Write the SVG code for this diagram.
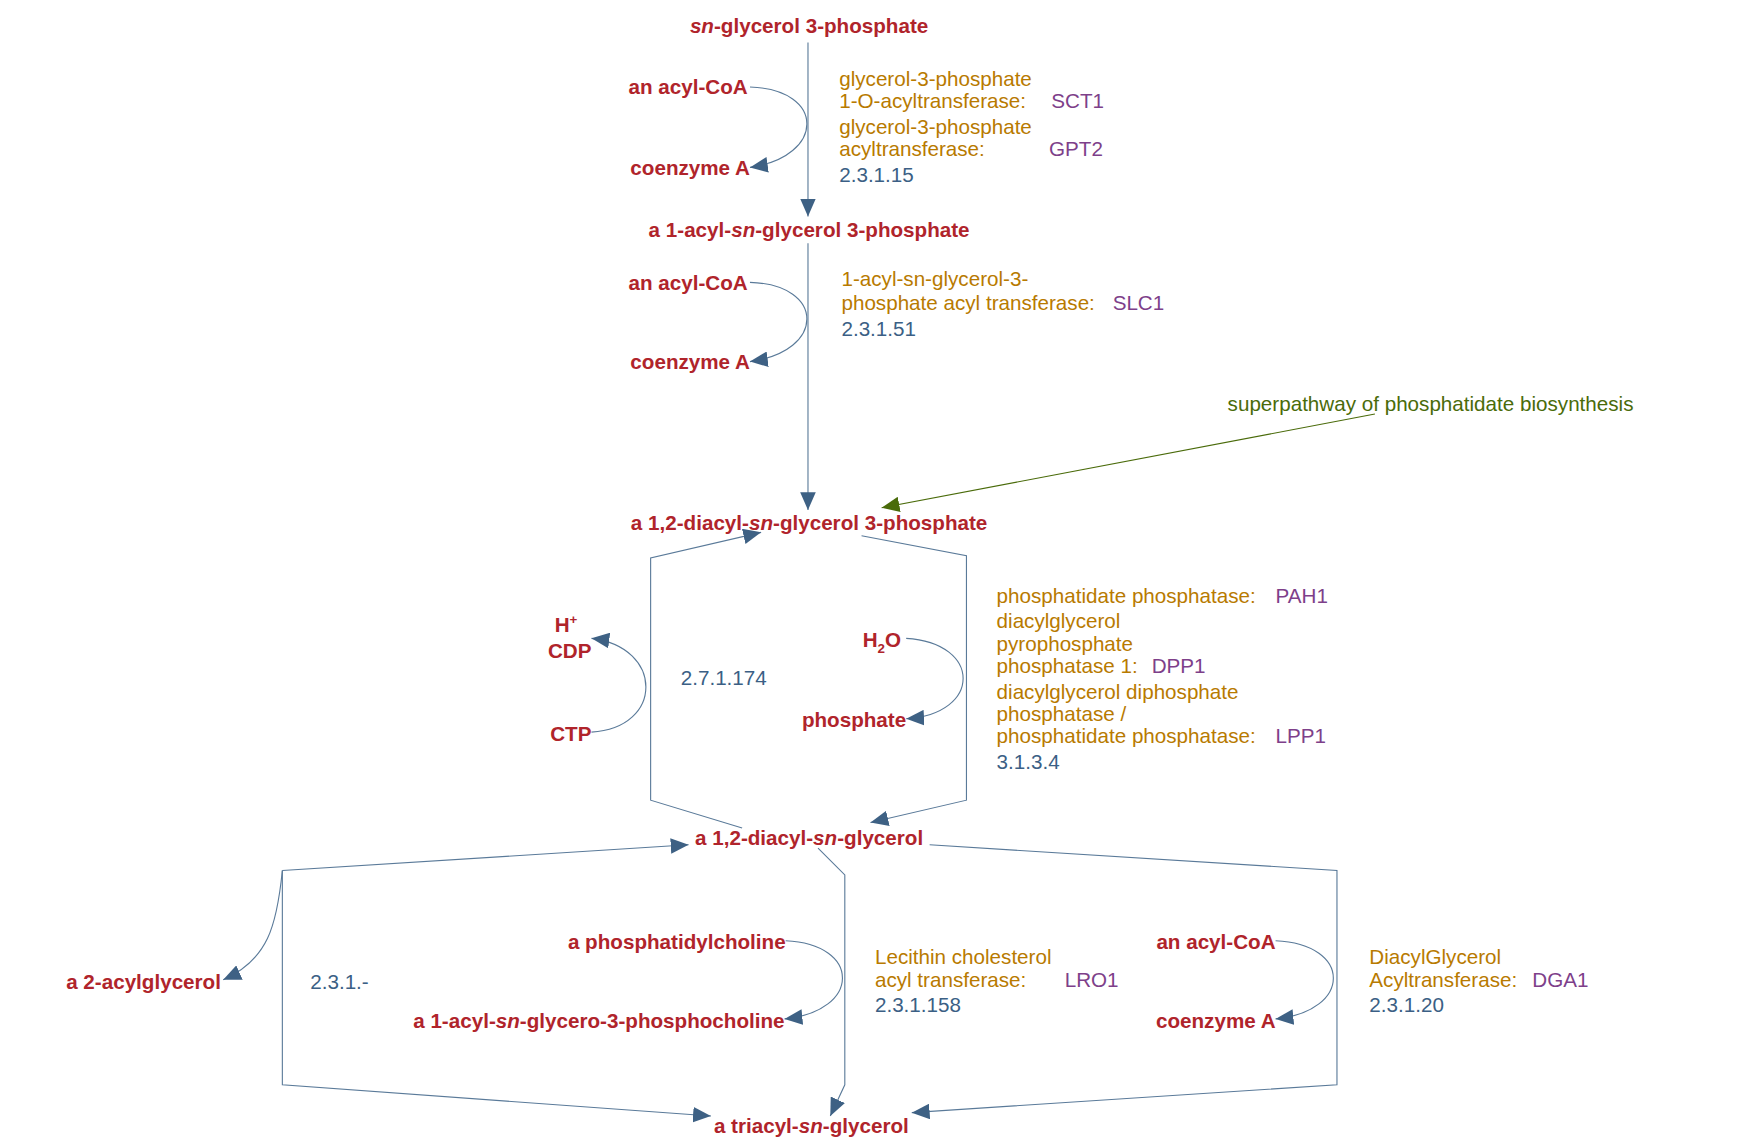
<svg xmlns="http://www.w3.org/2000/svg" width="1750" height="1146" viewBox="0 0 1750 1146">
<style>
.c{font-family:"Liberation Sans",Arial,sans-serif;font-size:18.5px;font-weight:bold;fill:#b0242b}
.e{font-family:"Liberation Sans",Arial,sans-serif;font-size:18.5px;fill:#b87a00}
.g{font-family:"Liberation Sans",Arial,sans-serif;font-size:18.5px;fill:#7e3f8a}
.n{font-family:"Liberation Sans",Arial,sans-serif;font-size:18.5px;fill:#3b5f85}
.p{font-family:"Liberation Sans",Arial,sans-serif;font-size:18.5px;fill:#4a6b0a}
.m{text-anchor:middle}.r{text-anchor:end}
.l{fill:none;stroke:#5a7a99;stroke-width:1}
</style>
<defs>
<marker id="a" markerUnits="userSpaceOnUse" markerWidth="18" markerHeight="14" refX="16" refY="7" orient="auto"><path d="M0,0L16,7L0,14z" fill="#3e6184"/></marker>
<marker id="ag" markerUnits="userSpaceOnUse" markerWidth="18" markerHeight="14" refX="16" refY="7" orient="auto"><path d="M0,0L16,7L0,14z" fill="#4a6b0a"/></marker>
</defs>
<rect width="1750" height="1146" fill="#fff"/>
<g transform="scale(1.116)">
<g id="connectors">
<path class="l" d="M724,38V194" marker-end="url(#a)"/>
<path class="l" d="M672,78C740,80 740,140 672,150" marker-end="url(#a)"/>
<path class="l" d="M724,218V457" marker-end="url(#a)"/>
<path class="l" d="M672,253C740,255 740,315 672,324" marker-end="url(#a)"/>
<path d="M1232,371L790,455" fill="none" stroke="#4a6b0a" marker-end="url(#ag)"/>
<path class="l" d="M665,742L583,717V500L682,477" marker-end="url(#a)"/>
<path class="l" d="M772,480L866,498V717L780,737" marker-end="url(#a)"/>
<path class="l" d="M530,656C595,652 595,580 530,572" marker-end="url(#a)"/>
<path class="l" d="M812,572C880,576 880,640 812,644" marker-end="url(#a)"/>
<path class="l" d="M253,780L617,757"  marker-end="url(#a)"/>
<path class="l" d="M253,780V972L637,1000" marker-end="url(#a)"/>
<path class="l" d="M253,780C248,830 240,860 200,878" marker-end="url(#a)"/>
<path class="l" d="M733,760L757,784V972L744,1000" marker-end="url(#a)"/>
<path class="l" d="M704,843C772,846 772,906 703,913" marker-end="url(#a)"/>
<path class="l" d="M833,757L1198,780V972L817,997" marker-end="url(#a)"/>
<path class="l" d="M1143,843C1212,846 1212,906 1143,913" marker-end="url(#a)"/>
</g>
<g id="n1"><text class="c m" x="725" y="30"><tspan font-style="italic">sn</tspan>-glycerol 3-phosphate</text></g>
<g id="n2"><text class="c r" x="670" y="84">an acyl-CoA</text></g>
<g id="n3"><text class="c r" x="672" y="157">coenzyme A</text></g>
<g id="e1"><text class="e" x="752" y="77">glycerol-3-phosphate</text><text class="e" x="752" y="97">1-O-acyltransferase:</text><text class="g" x="942" y="97">SCT1</text>
<text class="e" x="752" y="120">glycerol-3-phosphate</text><text class="e" x="752" y="140">acyltransferase:</text><text class="g" x="940" y="140">GPT2</text><text class="n" x="752" y="163">2.3.1.15</text></g>
<g id="n4"><text class="c m" x="725" y="212">a 1-acyl-<tspan font-style="italic">sn</tspan>-glycerol 3-phosphate</text></g>
<g id="n5"><text class="c r" x="670" y="260">an acyl-CoA</text></g>
<g id="n6"><text class="c r" x="672" y="331">coenzyme A</text></g>
<g id="e2"><text class="e" x="754" y="256">1-acyl-sn-glycerol-3-</text><text class="e" x="754" y="278">phosphate acyl transferase:</text><text class="g" x="997" y="278">SLC1</text><text class="n" x="754" y="301">2.3.1.51</text></g>
<g id="pw"><text class="p" x="1100" y="368">superpathway of phosphatidate biosynthesis</text></g>
<g id="n7"><text class="c m" x="725" y="475">a 1,2-diacyl-<tspan font-style="italic">sn</tspan>-glycerol 3-phosphate</text></g>
<g id="n8"><text class="c" x="497" y="566">H<tspan font-size="12" dy="-7">+</tspan></text><text class="c r" x="530" y="590">CDP</text></g>
<g id="n9"><text class="c r" x="530" y="664">CTP</text></g>
<g id="e3"><text class="n" x="610" y="614">2.7.1.174</text></g>
<g id="n10"><text class="c" x="773" y="580">H<tspan font-size="12" dy="5">2</tspan><tspan dy="-5">O</tspan></text></g>
<g id="n11"><text class="c r" x="812" y="651">phosphate</text></g>
<g id="e4"><text class="e" x="893" y="540">phosphatidate phosphatase:</text><text class="g" x="1143" y="540">PAH1</text>
<text class="e" x="893" y="563">diacylglycerol</text><text class="e" x="893" y="583">pyrophosphate</text><text class="e" x="893" y="603">phosphatase 1:</text><text class="g" x="1032" y="603">DPP1</text>
<text class="e" x="893" y="626">diacylglycerol diphosphate</text><text class="e" x="893" y="646">phosphatase /</text><text class="e" x="893" y="666">phosphatidate phosphatase:</text><text class="g" x="1143" y="666">LPP1</text><text class="n" x="893" y="689">3.1.3.4</text></g>
<g id="n12"><text class="c m" x="725" y="757">a 1,2-diacyl-<tspan font-style="italic">sn</tspan>-glycerol</text></g>
<g id="n13"><text class="c r" x="198" y="886">a 2-acylglycerol</text></g>
<g id="e5"><text class="n" x="278" y="886">2.3.1.-</text></g>
<g id="n14"><text class="c r" x="704" y="850">a phosphatidylcholine</text></g>
<g id="n15"><text class="c r" x="703" y="921">a 1-acyl-<tspan font-style="italic">sn</tspan>-glycero-3-phosphocholine</text></g>
<g id="e6"><text class="e" x="784" y="864">Lecithin cholesterol</text><text class="e" x="784" y="884">acyl transferase:</text><text class="g" x="954" y="884">LRO1</text><text class="n" x="784" y="907">2.3.1.158</text></g>
<g id="n16"><text class="c r" x="1143" y="850">an acyl-CoA</text></g>
<g id="n17"><text class="c r" x="1143" y="921">coenzyme A</text></g>
<g id="e7"><text class="e" x="1227" y="864">DiacylGlycerol</text><text class="e" x="1227" y="884">Acyltransferase:</text><text class="g" x="1373" y="884">DGA1</text><text class="n" x="1227" y="907">2.3.1.20</text></g>
<g id="n18"><text class="c m" x="727" y="1015">a triacyl-<tspan font-style="italic">sn</tspan>-glycerol</text></g>
</g>
</svg>
